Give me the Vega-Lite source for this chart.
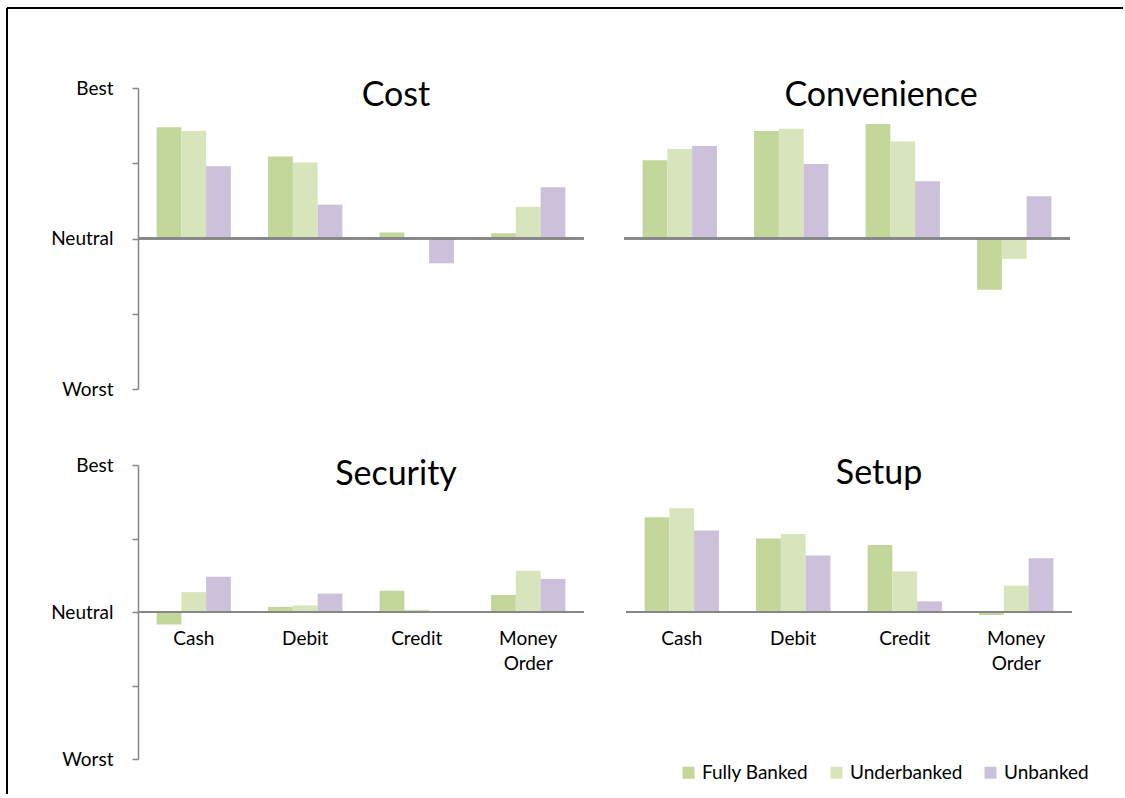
{
  "$schema": "https://vega.github.io/schema/vega-lite/v6.json",
  "padding": {"left": 6, "top": 7, "right": 0, "bottom": 0},
  "background": "white",
  "config": {"view": {"stroke": null}, "font": "Lato"},
  "datasets": {
    "frame": [{"edge": 0}],
    "scores": [
      {"panel": "Cost", "method": "Cash", "group": "Fully Banked", "score": 1.48},
      {"panel": "Cost", "method": "Cash", "group": "Underbanked", "score": 1.43},
      {"panel": "Cost", "method": "Cash", "group": "Unbanked", "score": 0.96},
      {"panel": "Cost", "method": "Debit", "group": "Fully Banked", "score": 1.09},
      {"panel": "Cost", "method": "Debit", "group": "Underbanked", "score": 1.01},
      {"panel": "Cost", "method": "Debit", "group": "Unbanked", "score": 0.45},
      {"panel": "Cost", "method": "Credit", "group": "Fully Banked", "score": 0.08},
      {"panel": "Cost", "method": "Credit", "group": "Underbanked", "score": 0},
      {"panel": "Cost", "method": "Credit", "group": "Unbanked", "score": -0.33},
      {"panel": "Cost", "method": "Money Order", "group": "Fully Banked", "score": 0.07},
      {"panel": "Cost", "method": "Money Order", "group": "Underbanked", "score": 0.42},
      {"panel": "Cost", "method": "Money Order", "group": "Unbanked", "score": 0.68},
      {"panel": "Convenience", "method": "Cash", "group": "Fully Banked", "score": 1.04},
      {"panel": "Convenience", "method": "Cash", "group": "Underbanked", "score": 1.19},
      {"panel": "Convenience", "method": "Cash", "group": "Unbanked", "score": 1.23},
      {"panel": "Convenience", "method": "Debit", "group": "Fully Banked", "score": 1.43},
      {"panel": "Convenience", "method": "Debit", "group": "Underbanked", "score": 1.46},
      {"panel": "Convenience", "method": "Debit", "group": "Unbanked", "score": 0.99},
      {"panel": "Convenience", "method": "Credit", "group": "Fully Banked", "score": 1.52},
      {"panel": "Convenience", "method": "Credit", "group": "Underbanked", "score": 1.29},
      {"panel": "Convenience", "method": "Credit", "group": "Unbanked", "score": 0.76},
      {"panel": "Convenience", "method": "Money Order", "group": "Fully Banked", "score": -0.68},
      {"panel": "Convenience", "method": "Money Order", "group": "Underbanked", "score": -0.27},
      {"panel": "Convenience", "method": "Money Order", "group": "Unbanked", "score": 0.56},
      {"panel": "Security", "method": "Cash", "group": "Fully Banked", "score": -0.17},
      {"panel": "Security", "method": "Cash", "group": "Underbanked", "score": 0.27},
      {"panel": "Security", "method": "Cash", "group": "Unbanked", "score": 0.48},
      {"panel": "Security", "method": "Debit", "group": "Fully Banked", "score": 0.07},
      {"panel": "Security", "method": "Debit", "group": "Underbanked", "score": 0.09},
      {"panel": "Security", "method": "Debit", "group": "Unbanked", "score": 0.25},
      {"panel": "Security", "method": "Credit", "group": "Fully Banked", "score": 0.29},
      {"panel": "Security", "method": "Credit", "group": "Underbanked", "score": 0.03},
      {"panel": "Security", "method": "Credit", "group": "Unbanked", "score": 0.01},
      {"panel": "Security", "method": "Money Order", "group": "Fully Banked", "score": 0.23},
      {"panel": "Security", "method": "Money Order", "group": "Underbanked", "score": 0.56},
      {"panel": "Security", "method": "Money Order", "group": "Unbanked", "score": 0.45},
      {"panel": "Setup", "method": "Cash", "group": "Fully Banked", "score": 1.29},
      {"panel": "Setup", "method": "Cash", "group": "Underbanked", "score": 1.41},
      {"panel": "Setup", "method": "Cash", "group": "Unbanked", "score": 1.11},
      {"panel": "Setup", "method": "Debit", "group": "Fully Banked", "score": 1.0},
      {"panel": "Setup", "method": "Debit", "group": "Underbanked", "score": 1.06},
      {"panel": "Setup", "method": "Debit", "group": "Unbanked", "score": 0.77},
      {"panel": "Setup", "method": "Credit", "group": "Fully Banked", "score": 0.91},
      {"panel": "Setup", "method": "Credit", "group": "Underbanked", "score": 0.55},
      {"panel": "Setup", "method": "Credit", "group": "Unbanked", "score": 0.145},
      {"panel": "Setup", "method": "Money Order", "group": "Fully Banked", "score": -0.04},
      {"panel": "Setup", "method": "Money Order", "group": "Underbanked", "score": 0.36},
      {"panel": "Setup", "method": "Money Order", "group": "Unbanked", "score": 0.73}
    ]
  },
  "spacing": 0,
  "bounds": "flush",
  "resolve": {"scale": {"x": "independent", "y": "independent", "xOffset": "independent"}},
  "vconcat": [
    {
      "width": 1116, "height": 80,
      "data": {"name": "frame"},
      "layer": [
        {"mark": {"type": "rule", "color": "black", "strokeWidth": 2}, "encoding": {"y": {"datum": 1, "type": "quantitative", "scale": {"domain": [0, 1]}, "axis": null}}},
        {"mark": {"type": "rule", "color": "black", "strokeWidth": 2}, "encoding": {"x": {"datum": 0, "type": "quantitative", "scale": {"domain": [0, 1]}, "axis": null}, "y": {"datum": 1, "type": "quantitative", "axis": null}, "y2": {"datum": -0.1}}}
      ]
    },
    {
      "spacing": 0,
      "resolve": {"scale": {"x": "independent", "y": "independent", "xOffset": "independent"}},
      "hconcat": [
        {
          "width": 43, "height": 706,
          "data": {"name": "frame"},
          "mark": {"type": "rule", "color": "black", "strokeWidth": 2},
          "encoding": {"x": {"datum": 0, "type": "quantitative", "scale": {"domain": [0, 1]}, "axis": null}}
        },
        {
          "spacing": 57,
          "resolve": {"scale": {"x": "independent", "y": "independent", "xOffset": "independent"}},
          "vconcat": [
            {
              "hconcat": [
                {
                  "title": {"text": "Cost", "fontSize": 34, "font": "Lato", "fontWeight": "normal", "color": "black", "anchor": "middle", "frame": "group", "dx": 35, "offset": -61, "baseline": "alphabetic"},
                  "width": 446, "height": 301,
                  "data": {"name": "scores"},
                  "transform": [{"filter": "datum.panel == 'Cost'"}],
                  "layer": [
                    {
                      "mark": {"type": "bar"},
                      "encoding": {
                        "x": {"field": "method", "type": "nominal", "sort": ["Cash", "Debit", "Credit", "Money Order"], "scale": {"paddingInner": 0.3333, "paddingOuter": 0.1667}, "axis": null},
                        "xOffset": {"field": "group", "type": "nominal", "sort": ["Fully Banked", "Underbanked", "Unbanked"], "scale": {"paddingInner": 0, "paddingOuter": 0}},
                        "y": {"field": "score", "type": "quantitative", "scale": {"domain": [-2, 2], "nice": false, "zero": false},
                          "axis": {"values": [-2, -1, 0, 1, 2], "labelExpr": "datum.value == 2 ? 'Best' : datum.value == 0 ? 'Neutral' : datum.value == -2 ? 'Worst' : ''", "title": null, "grid": false, "domainColor": "#868686", "tickColor": "#868686", "domainWidth": 1.5, "tickWidth": 1.5, "tickSize": 6, "labelPadding": 19, "labelFont": "Lato", "labelFontSize": 19, "labelColor": "black", "labelOverlap": false, "labelFlush": false}},
                        "color": {"field": "group", "type": "nominal", "sort": ["Fully Banked", "Underbanked", "Unbanked"],
                          "scale": {"domain": ["Fully Banked", "Underbanked", "Unbanked"], "range": ["#c4d79b", "#d8e4bc", "#ccc0da"]},
                          "legend": {"title": null, "orient": "none", "legendX": 672, "legendY": 755, "direction": "horizontal", "symbolType": "square", "symbolSize": 144, "symbolStrokeWidth": 0, "labelFont": "Lato", "labelFontSize": 19, "labelColor": "black", "columnPadding": 18, "labelOffset": 4}}
                      }
                    },
                    {"mark": {"type": "rule", "color": "#868686", "strokeWidth": 1.5}, "encoding": {"y": {"datum": 0}}}
                  ]
                },
                {
                  "title": {"text": "Convenience", "fontSize": 34, "font": "Lato", "fontWeight": "normal", "color": "black", "anchor": "middle", "frame": "group", "dx": 34, "offset": -52, "baseline": "alphabetic"},
                  "width": 446, "height": 301,
                  "data": {"name": "scores"},
                  "transform": [{"filter": "datum.panel == 'Convenience'"}],
                  "layer": [
                    {
                      "mark": {"type": "bar"},
                      "encoding": {
                        "x": {"field": "method", "type": "nominal", "sort": ["Cash", "Debit", "Credit", "Money Order"], "scale": {"paddingInner": 0.3333, "paddingOuter": 0.1667}, "axis": null},
                        "xOffset": {"field": "group", "type": "nominal", "sort": ["Fully Banked", "Underbanked", "Unbanked"], "scale": {"paddingInner": 0, "paddingOuter": 0}},
                        "y": {"field": "score", "type": "quantitative", "scale": {"domain": [-2, 2], "nice": false, "zero": false}, "axis": null},
                        "color": {"field": "group", "type": "nominal", "sort": ["Fully Banked", "Underbanked", "Unbanked"], "scale": {"domain": ["Fully Banked", "Underbanked", "Unbanked"], "range": ["#c4d79b", "#d8e4bc", "#ccc0da"]}}
                      }
                    },
                    {"mark": {"type": "rule", "color": "#868686", "strokeWidth": 1.5}, "encoding": {"y": {"datum": 0}}}
                  ]
                }
              ],
              "spacing": 38,
              "resolve": {"scale": {"x": "independent", "y": "independent", "xOffset": "independent"}}
            },
            {
              "hconcat": [
                {
                  "title": {"text": "Security", "fontSize": 34, "font": "Lato", "fontWeight": "normal", "color": "black", "anchor": "middle", "frame": "group", "dx": 35, "offset": -63, "baseline": "alphabetic"},
                  "width": 446, "height": 294,
                  "data": {"name": "scores"},
                  "transform": [{"filter": "datum.panel == 'Security'"}],
                  "layer": [
                    {
                      "mark": {"type": "bar"},
                      "encoding": {
                        "x": {"field": "method", "type": "nominal", "sort": ["Cash", "Debit", "Credit", "Money Order"], "scale": {"paddingInner": 0.3333, "paddingOuter": 0.1667},
                          "axis": {"title": null, "domain": false, "ticks": false, "offset": -147, "labelPadding": 17, "labelFont": "Lato", "labelFontSize": 19, "labelColor": "black", "labelAngle": 0, "labelLineHeight": 25, "labelExpr": "datum.value == 'Money Order' ? ['Money', 'Order'] : datum.label"}},
                        "xOffset": {"field": "group", "type": "nominal", "sort": ["Fully Banked", "Underbanked", "Unbanked"], "scale": {"paddingInner": 0, "paddingOuter": 0}},
                        "y": {"field": "score", "type": "quantitative", "scale": {"domain": [-2, 2], "nice": false, "zero": false},
                          "axis": {"values": [-2, -1, 0, 1, 2], "labelExpr": "datum.value == 2 ? 'Best' : datum.value == 0 ? 'Neutral' : datum.value == -2 ? 'Worst' : ''", "title": null, "grid": false, "domainColor": "#868686", "tickColor": "#868686", "domainWidth": 1.5, "tickWidth": 1.5, "tickSize": 6, "labelPadding": 19, "labelFont": "Lato", "labelFontSize": 19, "labelColor": "black", "labelOverlap": false, "labelFlush": false}},
                        "color": {"field": "group", "type": "nominal", "sort": ["Fully Banked", "Underbanked", "Unbanked"], "scale": {"domain": ["Fully Banked", "Underbanked", "Unbanked"], "range": ["#c4d79b", "#d8e4bc", "#ccc0da"]}}
                      }
                    },
                    {"mark": {"type": "rule", "color": "#868686", "strokeWidth": 1.5}, "encoding": {"y": {"datum": 0}}}
                  ]
                },
                {
                  "title": {"text": "Setup", "fontSize": 34, "font": "Lato", "fontWeight": "normal", "color": "black", "anchor": "middle", "frame": "group", "dx": 30, "offset": -53, "baseline": "alphabetic"},
                  "width": 446, "height": 294,
                  "data": {"name": "scores"},
                  "transform": [{"filter": "datum.panel == 'Setup'"}],
                  "layer": [
                    {
                      "mark": {"type": "bar"},
                      "encoding": {
                        "x": {"field": "method", "type": "nominal", "sort": ["Cash", "Debit", "Credit", "Money Order"], "scale": {"paddingInner": 0.3333, "paddingOuter": 0.1667},
                          "axis": {"title": null, "domain": false, "ticks": false, "offset": -147, "labelPadding": 17, "labelFont": "Lato", "labelFontSize": 19, "labelColor": "black", "labelAngle": 0, "labelLineHeight": 25, "labelExpr": "datum.value == 'Money Order' ? ['Money', 'Order'] : datum.label"}},
                        "xOffset": {"field": "group", "type": "nominal", "sort": ["Fully Banked", "Underbanked", "Unbanked"], "scale": {"paddingInner": 0, "paddingOuter": 0}},
                        "y": {"field": "score", "type": "quantitative", "scale": {"domain": [-2, 2], "nice": false, "zero": false}, "axis": null},
                        "color": {"field": "group", "type": "nominal", "sort": ["Fully Banked", "Underbanked", "Unbanked"], "scale": {"domain": ["Fully Banked", "Underbanked", "Unbanked"], "range": ["#c4d79b", "#d8e4bc", "#ccc0da"]}}
                      }
                    },
                    {"mark": {"type": "rule", "color": "#868686", "strokeWidth": 1.5}, "encoding": {"y": {"datum": 0}}}
                  ]
                }
              ],
              "spacing": 40,
              "resolve": {"scale": {"x": "independent", "y": "independent", "xOffset": "independent"}}
            }
          ]
        }
      ]
    }
  ]
}
